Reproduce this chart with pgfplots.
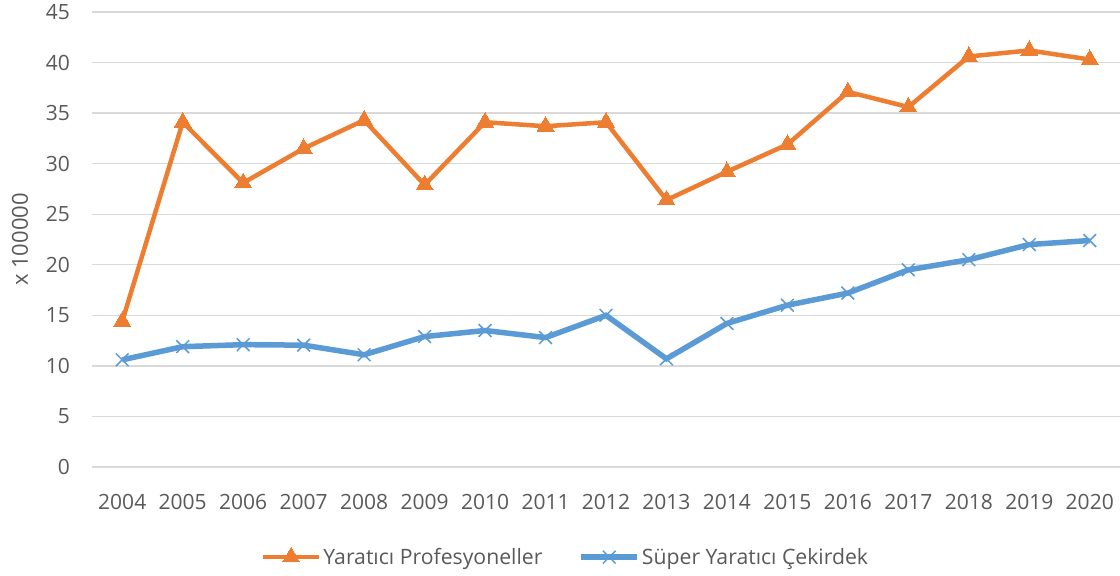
\documentclass[border=0pt]{standalone}
\usepackage{pgfplots}
\pgfplotsset{compat=1.18}
\usepackage{fontspec}
\setmainfont{Open Sans}
\definecolor{orng}{HTML}{ED7D31}
\definecolor{blu}{HTML}{5B9BD5}
\definecolor{gridc}{HTML}{D9D9D9}
\definecolor{txt}{HTML}{595959}
\begin{document}
\begin{tikzpicture}
\useasboundingbox (0,0) rectangle (1120pt,576pt);
\begin{axis}[
  at={(92pt,109pt)}, anchor=south west,
  scale only axis, width=1028pt, height=455pt,
  xmin=2003.5, xmax=2020.5, ymin=0, ymax=45,
  xtick={2004,2005,...,2020}, ytick={0,5,...,45},
  axis line style={draw=none}, major tick length=0pt,
  ymajorgrids, grid style={color=gridc, line width=1.3pt},
  font=\fontsize{21}{25}\selectfont,
  /pgf/number format/assume math mode=true,
  /pgf/number format/1000 sep={},
  tick label style={text=txt},
  yticklabel style={inner sep=0pt, anchor=east, xshift=-22pt},
  xticklabel style={inner sep=0pt, anchor=north, yshift=-27pt},
  ylabel={x 100000},
  ylabel style={at={(axis description cs:-0.070,0.5)}, anchor=center, text=txt, font=\fontsize{22}{26}\selectfont},
  legend columns=2,
  legend style={at={(0.4606,-0.198)}, anchor=center, draw=none, fill=none,
    font=\fontsize{21.2}{25}\selectfont, text=txt,
    /tikz/every even column/.append style={column sep=34pt},
    nodes={inner xsep=2pt}},
  legend image code/.code={\draw[mark repeat=2,mark phase=2,#1] plot coordinates {(0pt,0pt) (28pt,0pt) (56pt,0pt)};},
]
\addplot[color=orng, line width=4.5pt, mark=triangle*, mark size=9.8pt, mark options={line width=0pt, fill=orng}] coordinates {
(2004,14.4) (2005,34.1) (2006,28.1) (2007,31.5) (2008,34.3) (2009,27.9) (2010,34.1) (2011,33.7) (2012,34.1) (2013,26.4) (2014,29.2) (2015,31.9) (2016,37.1) (2017,35.6) (2018,40.6) (2019,41.2) (2020,40.3)
};
\addlegendentry{Yaratıcı Profesyoneller}
\addplot[color=blu, line width=5.5pt, mark=x, mark size=9pt, mark options={line width=1.5pt}] coordinates {
(2004,10.6) (2005,11.9) (2006,12.1) (2007,12.05) (2008,11.1) (2009,12.9) (2010,13.5) (2011,12.8) (2012,15.0) (2013,10.7) (2014,14.2) (2015,16.0) (2016,17.2) (2017,19.5) (2018,20.5) (2019,22.0) (2020,22.4)
};
\addlegendentry{Süper Yaratıcı Çekirdek}
\end{axis}
\end{tikzpicture}
\end{document}
